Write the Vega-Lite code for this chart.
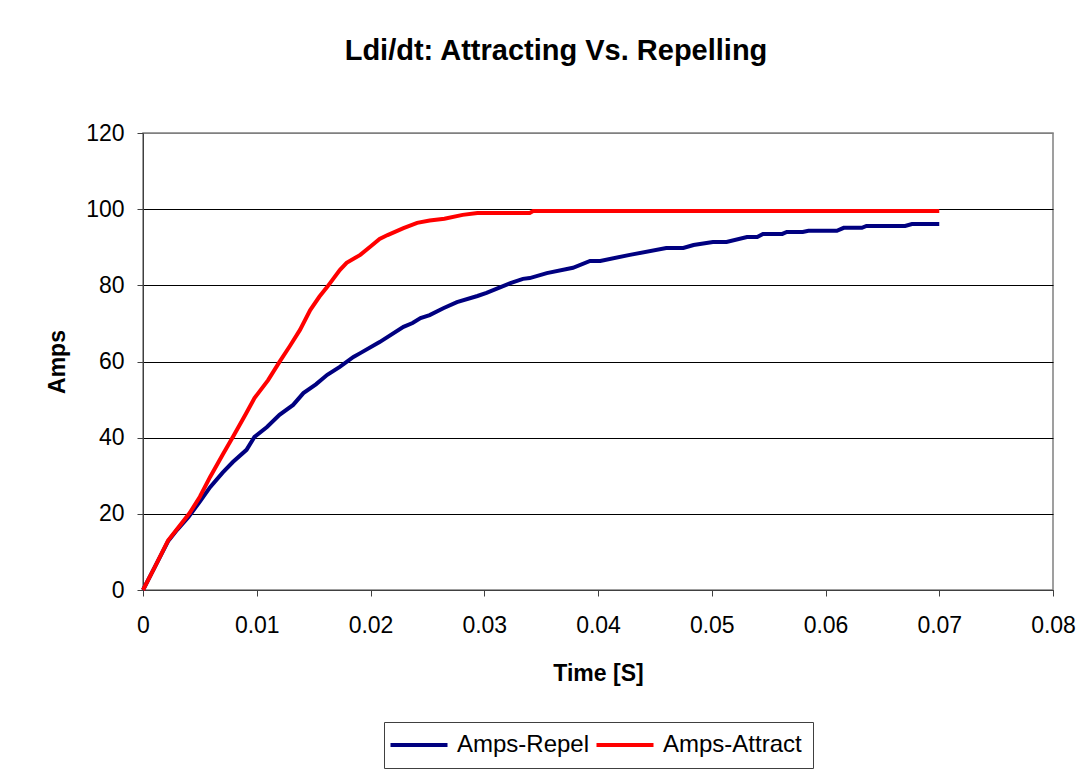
{
  "$schema": "https://vega.github.io/schema/vega-lite/v6.json",
  "autosize": {"type": "none"},
  "padding": {"left": 143, "top": 133, "right": 31, "bottom": 179},
  "width": 910,
  "height": 457,
  "background": "white",
  "title": {
    "text": "Ldi/dt: Attracting Vs. Repelling",
    "font": "Liberation Sans",
    "fontSize": 29,
    "fontWeight": "bold",
    "color": "black",
    "anchor": "middle",
    "frame": "group",
    "dx": -42,
    "offset": 56
  },
  "config": {
    "font": "Liberation Sans",
    "view": {"stroke": "#808080", "strokeWidth": 1.5}
  },
  "datasets": {
    "repel": [
      {"t": 0, "amps": 0}, {"t": 0.001, "amps": 5.8}, {"t": 0.0022, "amps": 12.8}, {"t": 0.003, "amps": 15.8},
      {"t": 0.004, "amps": 19.2}, {"t": 0.005, "amps": 23.2}, {"t": 0.0059, "amps": 27}, {"t": 0.007, "amps": 30.8},
      {"t": 0.0079, "amps": 33.6}, {"t": 0.0091, "amps": 36.8}, {"t": 0.0098, "amps": 40.2}, {"t": 0.0109, "amps": 42.8},
      {"t": 0.012, "amps": 46}, {"t": 0.0132, "amps": 48.6}, {"t": 0.0141, "amps": 51.7}, {"t": 0.0152, "amps": 54},
      {"t": 0.0162, "amps": 56.5}, {"t": 0.0173, "amps": 58.6}, {"t": 0.0185, "amps": 61.2}, {"t": 0.0191, "amps": 62.2},
      {"t": 0.0208, "amps": 65.1}, {"t": 0.0229, "amps": 69.1}, {"t": 0.0237, "amps": 70.1}, {"t": 0.0244, "amps": 71.4},
      {"t": 0.0252, "amps": 72.2}, {"t": 0.0264, "amps": 74}, {"t": 0.0276, "amps": 75.6}, {"t": 0.0294, "amps": 77.2},
      {"t": 0.0302, "amps": 78}, {"t": 0.0323, "amps": 80.6}, {"t": 0.0334, "amps": 81.7}, {"t": 0.034, "amps": 81.9},
      {"t": 0.0355, "amps": 83.2}, {"t": 0.0378, "amps": 84.6}, {"t": 0.0393, "amps": 86.4}, {"t": 0.0402, "amps": 86.4},
      {"t": 0.0428, "amps": 88}, {"t": 0.046, "amps": 89.8}, {"t": 0.0475, "amps": 89.8}, {"t": 0.0484, "amps": 90.6},
      {"t": 0.0501, "amps": 91.4}, {"t": 0.0513, "amps": 91.4}, {"t": 0.0531, "amps": 92.7}, {"t": 0.054, "amps": 92.7},
      {"t": 0.0545, "amps": 93.5}, {"t": 0.0562, "amps": 93.5}, {"t": 0.0566, "amps": 94}, {"t": 0.058, "amps": 94},
      {"t": 0.0585, "amps": 94.3}, {"t": 0.061, "amps": 94.3}, {"t": 0.0616, "amps": 95.1}, {"t": 0.0632, "amps": 95.1},
      {"t": 0.0636, "amps": 95.6}, {"t": 0.067, "amps": 95.6}, {"t": 0.0676, "amps": 96.1}, {"t": 0.07, "amps": 96.1}
    ],
    "attract": [
      {"t": 0, "amps": 0}, {"t": 0.001, "amps": 5.8}, {"t": 0.0022, "amps": 13}, {"t": 0.003, "amps": 16},
      {"t": 0.0041, "amps": 20.2}, {"t": 0.005, "amps": 24.5}, {"t": 0.0059, "amps": 29.7}, {"t": 0.007, "amps": 35.5},
      {"t": 0.0079, "amps": 40.2}, {"t": 0.009, "amps": 46}, {"t": 0.0098, "amps": 50.4}, {"t": 0.011, "amps": 55.1},
      {"t": 0.012, "amps": 59.9}, {"t": 0.0129, "amps": 64}, {"t": 0.0138, "amps": 68.3}, {"t": 0.0147, "amps": 73.5},
      {"t": 0.0155, "amps": 77}, {"t": 0.0162, "amps": 79.6}, {"t": 0.0173, "amps": 84}, {"t": 0.0179, "amps": 85.9},
      {"t": 0.0191, "amps": 88}, {"t": 0.02, "amps": 90.2}, {"t": 0.0208, "amps": 92.2}, {"t": 0.0215, "amps": 93.2},
      {"t": 0.0229, "amps": 95}, {"t": 0.0241, "amps": 96.4}, {"t": 0.0252, "amps": 97}, {"t": 0.0265, "amps": 97.5},
      {"t": 0.0281, "amps": 98.5}, {"t": 0.0294, "amps": 99}, {"t": 0.034, "amps": 99}, {"t": 0.0343, "amps": 99.5},
      {"t": 0.07, "amps": 99.5}
    ]
  },
  "encoding": {
    "x": {
      "field": "t", "type": "quantitative",
      "scale": {"domain": [0, 0.08], "nice": false, "zero": true},
      "axis": {
        "title": "Time [S]",
        "values": [0, 0.01, 0.02, 0.03, 0.04, 0.05, 0.06, 0.07, 0.08],
        "format": "~g",
        "grid": false,
        "domainColor": "#404040",
        "tickColor": "#404040",
        "tickSize": 6,
        "labelFontSize": 23,
        "labelColor": "black",
        "labelPadding": 18,
        "labelFlush": false,
        "titleFontSize": 23,
        "titleFontWeight": "bold",
        "titleColor": "black",
        "titlePadding": 25
      }
    },
    "y": {
      "field": "amps", "type": "quantitative",
      "scale": {"domain": [0, 120], "nice": false},
      "axis": {
        "title": "Amps",
        "values": [0, 20, 40, 60, 80, 100, 120],
        "grid": true,
        "gridColor": {"condition": {"test": "datum.value >= 120", "value": "#808080"}, "value": "black"},
        "gridOpacity": 1,
        "gridWidth": 1,
        "domainColor": "#404040",
        "tickColor": "#404040",
        "tickSize": 6,
        "labelFontSize": 23,
        "labelColor": "black",
        "labelPadding": 13,
        "titleFontSize": 23,
        "titleFontWeight": "bold",
        "titleColor": "black",
        "titlePadding": 16
      }
    },
    "color": {
      "field": "series", "type": "nominal",
      "scale": {"domain": ["Amps-Repel", "Amps-Attract"], "range": ["#000080", "#FF0000"]},
      "legend": {
        "title": null,
        "orient": "none",
        "legendX": 241,
        "legendY": 589,
        "direction": "horizontal",
        "strokeColor": "#404040",
        "padding": 11,
        "symbolType": "M-2.85,0H2.85",
        "symbolSize": 400,
        "symbolOffset": 12,
        "symbolStrokeWidth": 4,
        "symbolFillColor": "transparent",
        "labelFontSize": 24,
        "labelColor": "black",
        "labelOffset": 26,
        "columnPadding": -2
      }
    }
  },
  "layer": [
    {
      "data": {"name": "repel"},
      "transform": [{"calculate": "'Amps-Repel'", "as": "series"}],
      "mark": {"type": "line", "strokeWidth": 4, "clip": false}
    },
    {
      "data": {"name": "attract"},
      "transform": [{"calculate": "'Amps-Attract'", "as": "series"}],
      "mark": {"type": "line", "strokeWidth": 4, "clip": false}
    }
  ]
}
